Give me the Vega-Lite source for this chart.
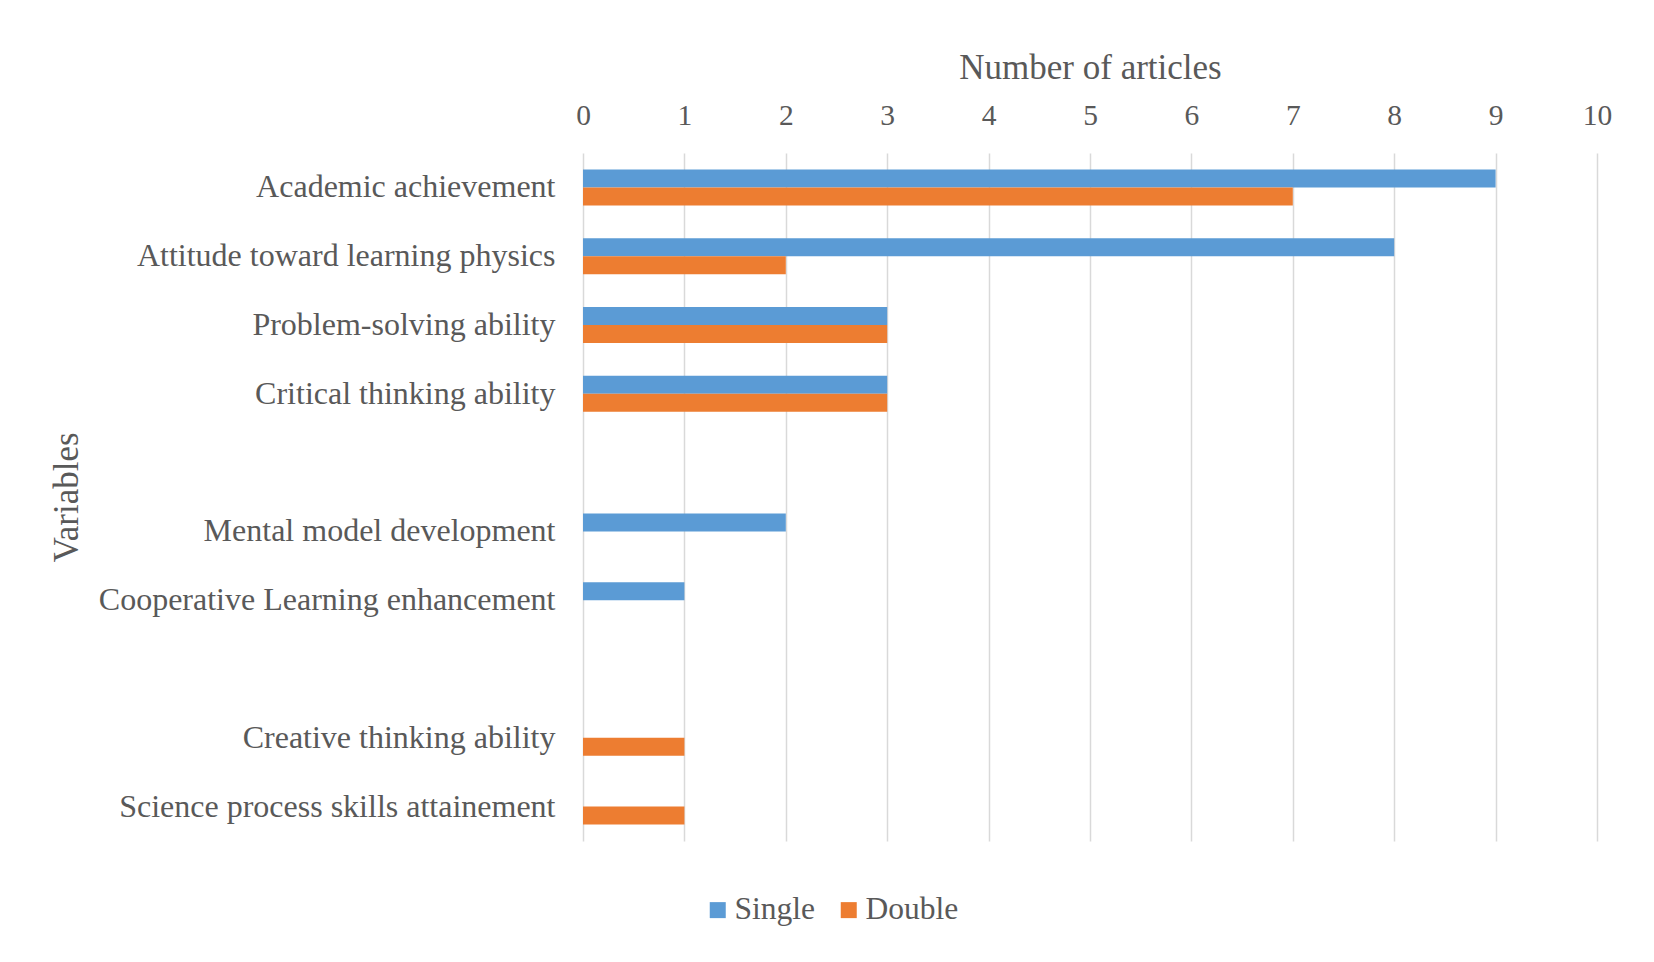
{
  "$schema": "https://vega.github.io/schema/vega-lite/v6.json",
  "autosize": {"type": "none"},
  "width": 1014,
  "height": 688,
  "padding": {"left": 583, "top": 153, "right": 57, "bottom": 121},
  "background": "white",
  "config": {
    "view": {"stroke": null},
    "font": "Liberation Serif",
    "axis": {"labelFont": "Liberation Serif", "titleFont": "Liberation Serif", "labelColor": "#595959", "titleColor": "#595959", "titleFontWeight": "normal"},
    "legend": {"labelFont": "Liberation Serif", "labelColor": "#595959"}
  },
  "data": {
    "values": [
      {"Variable": "Academic achievement", "Series": "Single", "Count": 9},
      {"Variable": "Academic achievement", "Series": "Double", "Count": 7},
      {"Variable": "Attitude toward learning physics", "Series": "Single", "Count": 8},
      {"Variable": "Attitude toward learning physics", "Series": "Double", "Count": 2},
      {"Variable": "Problem-solving ability", "Series": "Single", "Count": 3},
      {"Variable": "Problem-solving ability", "Series": "Double", "Count": 3},
      {"Variable": "Critical thinking ability", "Series": "Single", "Count": 3},
      {"Variable": "Critical thinking ability", "Series": "Double", "Count": 3},
      {"Variable": "Mental model development", "Series": "Single", "Count": 2},
      {"Variable": "Cooperative Learning enhancement", "Series": "Single", "Count": 1},
      {"Variable": "Creative thinking ability", "Series": "Double", "Count": 1},
      {"Variable": "Science process skills attainement", "Series": "Double", "Count": 1}
    ]
  },
  "mark": {"type": "bar"},
  "encoding": {
    "y": {
      "field": "Variable",
      "type": "nominal",
      "sort": null,
      "scale": {
        "domain": ["Academic achievement", "Attitude toward learning physics", "Problem-solving ability", "Critical thinking ability", " ", "Mental model development", "Cooperative Learning enhancement", "  ", "Creative thinking ability", "Science process skills attainement"],
        "paddingInner": 0.477,
        "paddingOuter": 0.2385
      },
      "axis": {
        "title": "Variables",
        "titleFontSize": 35,
        "titleX": -499,
        "titleY": 344,
        "titleAngle": -90,
        "titleBaseline": "bottom",
        "titleAlign": "center",
        "labelFontSize": 32,
        "labelPadding": 28,
        "ticks": false,
        "domain": false,
        "grid": false,
        "labelLimit": 700
      }
    },
    "yOffset": {
      "field": "Series",
      "type": "nominal",
      "sort": ["Single", "Double"],
      "scale": {"domain": ["Single", "Double"], "paddingInner": 0, "paddingOuter": 0}
    },
    "x": {
      "field": "Count",
      "type": "quantitative",
      "scale": {"domain": [0, 10], "nice": false},
      "axis": {
        "orient": "top",
        "title": "Number of articles",
        "titleFontSize": 35,
        "titleY": -68,
        "titleBaseline": "bottom",
        "values": [0, 1, 2, 3, 4, 5, 6, 7, 8, 9, 10],
        "labelFontSize": 29.5,
        "labelPadding": 23,
        "labelFlush": false,
        "ticks": false,
        "domain": false,
        "grid": true,
        "gridColor": "#d9d9d9",
        "gridWidth": 1.5
      }
    },
    "color": {
      "field": "Series",
      "type": "nominal",
      "scale": {"domain": ["Single", "Double"], "range": ["#5b9bd5", "#ed7d31"]},
      "legend": {
        "title": null,
        "orient": "none",
        "direction": "horizontal",
        "legendX": 119,
        "legendY": 741,
        "symbolType": "square",
        "symbolSize": 256,
        "symbolStrokeWidth": 0,
        "labelFontSize": 31.5,
        "labelOffset": 1,
        "columnPadding": 17
      }
    }
  }
}
